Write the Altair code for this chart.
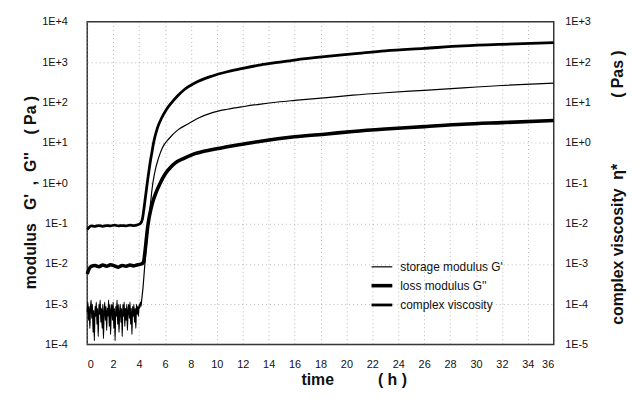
import altair as alt
import numpy as np
import pandas as pd

# ---------------- data (log10 of the plotted value) -------------
# storage modulus G' (Pa): noisy baseline 0..4.2 h (every 0.05 h), then growth
gp_noise_t = [round(0.05 * i, 2) for i in range(85)]
gp_noise_log = [
    -3.2, -2.95, -3.4, -3.05, -3.6, -3.1, -2.9, -3.35, -3.0, -3.7,
    -3.15, -3.9, -3.05, -3.3, -2.95, -3.5, -3.1, -3.8, -3.0, -3.25,
    -2.9, -3.45, -3.1, -3.6, -3.0, -3.85, -3.2, -2.95, -3.4, -3.05,
    -3.65, -3.1, -3.3, -2.9, -3.55, -3.0, -3.75, -3.15, -3.0, -3.4,
    -2.95, -3.6, -3.1, -3.9, -3.05, -3.3, -2.9, -3.5, -3.0, -3.7,
    -3.2, -3.0, -3.45, -3.1, -3.8, -3.0, -3.3, -2.95, -3.55, -3.1,
    -3.4, -3.0, -3.65, -3.15, -3.0, -3.35, -2.95, -3.5, -3.1, -3.75,
    -3.05, -3.3, -3.0, -3.45, -3.1, -3.6, -3.0, -3.25, -3.05, -3.3,
    -3.0, -3.1, -2.95, -3.05, -2.9,
]
gp_rise_t = [4.3, 4.4, 4.5, 4.6, 4.7, 4.8, 4.9, 5.0, 5.2, 5.5, 5.8, 6.3, 7.0, 7.8,
             8.5, 9.6, 10.8, 12.1, 13.4, 14.7, 16.0, 18.5, 20.5, 23.0, 26.0, 29.0, 32.0, 36.0]
gp_rise_log = [-2.6, -2.2, -1.8, -1.45, -1.1, -0.75, -0.45, -0.15, 0.25, 0.62, 0.88, 1.1, 1.32, 1.47,
               1.6, 1.74, 1.83, 1.9, 1.96, 2.01, 2.05, 2.12, 2.18, 2.24, 2.3, 2.36, 2.42, 2.48]

# loss modulus G'' (Pa)
gpp_t = [0.0, 0.15, 0.3, 0.6, 0.9, 1.2, 1.5, 1.8, 2.1, 2.4, 2.7, 3.0, 3.3, 3.6, 3.9, 4.2,
         4.35, 4.45, 4.55, 4.65, 4.75, 4.9, 5.1, 5.3, 5.6, 6.0, 6.4, 6.8, 7.5, 8.3, 9.6,
         10.8, 12.1, 13.4, 14.7, 16.0, 18.5, 20.5, 23.0, 26.0, 29.0, 32.0, 36.0]
gpp_log = [-2.25, -2.12, -2.06, -2.04, -2.07, -2.03, -2.06, -2.02, -2.05, -2.08, -2.04, -2.06,
           -2.03, -2.05, -2.02, -2.0, -1.95, -1.72, -1.42, -1.12, -0.9, -0.66, -0.42, -0.24,
           -0.02, 0.22, 0.38, 0.5, 0.62, 0.73, 0.83, 0.9, 0.97, 1.04, 1.1, 1.15, 1.22, 1.28,
           1.34, 1.4, 1.46, 1.5, 1.55]

# complex viscosity eta* (Pa s) - right axis
eta_t = [0.0, 0.15, 0.3, 0.6, 0.9, 1.2, 1.5, 1.8, 2.1, 2.4, 2.7, 3.0, 3.3, 3.6, 3.9, 4.1,
         4.25, 4.35, 4.45, 4.55, 4.65, 4.75, 4.85, 5.0, 5.12, 5.4, 5.75, 6.1, 6.5, 7.0, 7.5,
         8.3, 9.6, 10.8, 12.1, 13.4, 14.7, 16.0, 18.5, 20.5, 23.0, 26.0, 29.0, 32.0, 36.0]
eta_log = [-2.15, -2.09, -2.06, -2.07, -2.05, -2.07, -2.05, -2.06, -2.04, -2.06, -2.05, -2.06,
           -2.04, -2.05, -2.03, -2.0, -1.9, -1.7, -1.45, -1.2, -0.95, -0.72, -0.5, -0.22, 0.0,
           0.35, 0.62, 0.82, 0.99, 1.17, 1.32, 1.48, 1.65, 1.76, 1.85, 1.93, 1.99, 2.05, 2.14,
           2.2, 2.28, 2.34, 2.4, 2.44, 2.48]

series_names = ["storage modulus G'", "loss modulus G''", "complex viscosity"]
x_ticks = list(range(0, 37, 2))
left_ticks = [1e-4, 1e-3, 1e-2, 1e-1, 1e0, 1e1, 1e2, 1e3, 1e4]
right_ticks = [1e-5, 1e-4, 1e-3, 1e-2, 1e-1, 1e0, 1e1, 1e2, 1e3]

# ---------------- tables ----------------
gp_t_all = gp_noise_t + gp_rise_t
gp_log_all = gp_noise_log + gp_rise_log
df_mod = pd.concat([
    pd.DataFrame({"t": gp_t_all, "v": np.power(10.0, gp_log_all), "series": series_names[0]}),
    pd.DataFrame({"t": gpp_t, "v": np.power(10.0, gpp_log), "series": series_names[1]}),
], ignore_index=True)
df_eta = pd.DataFrame({"t": eta_t, "v": np.power(10.0, eta_log), "series": series_names[2]})

NB = "\u00a0"
label_expr = ("'1E' + (round(log(datum.value)/LN10) >= 0 ? '+' : '-') + "
              "abs(round(log(datum.value)/LN10))")

x_enc = alt.X("t:Q", scale=alt.Scale(domain=[0, 36], nice=False),
              axis=alt.Axis(values=x_ticks, title="time" + NB * 10 + "( h )",
                            grid=True, gridDash=[1, 3], gridColor="#888", gridOpacity=0.6,
                            domain=False, ticks=False, tickSize=0, labelPadding=14,
                            labelFontSize=11, titleFontSize=16, titleFontWeight="bold",
                            titleX=269, titleY=35, titleAlign="center", titleBaseline="middle"))

legend_kw = dict(title=None, orient="none", legendX=285, legendY=236,
                 symbolType="stroke", symbolSize=440, rowPadding=0,
                 labelFontSize=12, labelOffset=6, padding=0, symbolStrokeColor="black")
color_enc = alt.Color("series:N",
                      scale=alt.Scale(type="ordinal", domain=series_names,
                                      range=["black", "black", "black"]),
                      legend=alt.Legend(**legend_kw))
sw_enc = alt.StrokeWidth("series:N",
                         scale=alt.Scale(type="ordinal", domain=series_names, range=[1.2, 3.6, 2.8]),
                         legend=alt.Legend(**legend_kw))

mod_chart = alt.Chart(df_mod).mark_line(strokeJoin="round", interpolate="monotone").encode(
    x=x_enc,
    y=alt.Y("v:Q", scale=alt.Scale(type="log", domain=[1e-4, 1e4], nice=False),
            axis=alt.Axis(orient="left", values=left_ticks, labelExpr=label_expr,
                          title="modulus" + NB * 3 + "G'" + NB * 2 + "," + NB * 2 + "G''"
                                + NB * 4 + "( Pa )",
                          grid=True, gridDash=[1, 3], gridColor="#888", gridOpacity=0.6,
                          domain=False, ticks=False, tickSize=0, labelPadding=20,
                          labelFontSize=11, titleFontSize=16, titleFontWeight="bold",
                          titleX=-57, titleY=172, titleAngle=270, titleAlign="center",
                          titleBaseline="middle")),
    color=color_enc,
    strokeWidth=sw_enc,
    detail="series:N",
)

eta_chart = alt.Chart(df_eta).mark_line(strokeJoin="round", interpolate="monotone").encode(
    x=x_enc,
    y=alt.Y("v:Q", scale=alt.Scale(type="log", domain=[1e-5, 1e3], nice=False),
            axis=alt.Axis(orient="right", values=right_ticks, labelExpr=label_expr,
                          title="complex viscosity" + NB * 2 + "η*" + NB * 15 + "( Pas )",
                          grid=False, domain=False, ticks=False, tickSize=0, labelPadding=11,
                          labelFontSize=11, titleFontSize=16, titleFontWeight="bold",
                          titleX=64, titleY=167, titleAngle=270, titleAlign="center",
                          titleBaseline="middle")),
    color=color_enc,
    strokeWidth=sw_enc,
)

chart = alt.layer(mod_chart, eta_chart).resolve_scale(y="independent").properties(
    width=471, height=326,
    autosize=alt.AutoSizeParams(type="none"),
    padding={"left": 80, "top": 12, "right": 77, "bottom": 43},
).configure(font="Liberation Sans").configure_view(
    stroke="#333", strokeWidth=1.5
).configure_axis(labelColor="#111", titleColor="#111").configure_legend(
    labelColor="#111"
)

chart.save("out.html", embed_options={"renderer": "svg", "actions": False})
